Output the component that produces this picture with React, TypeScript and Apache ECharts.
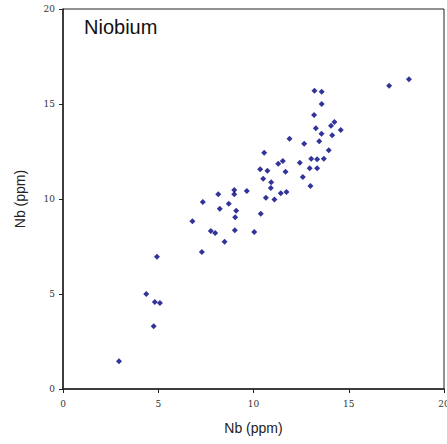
import React, { useEffect, useRef } from "react";
import * as echarts from "echarts";

const xValues = [
  18.16, 17.12, 13.2, 13.58, 13.58, 13.18, 14.25, 14.07, 14.58, 13.27,
  13.57, 14.13, 11.89, 13.45, 12.66, 13.95, 10.56, 13.03, 13.34, 13.69,
  11.54, 11.3, 12.43, 10.35, 10.73, 12.95, 13.34, 11.68, 12.59, 10.51,
  10.93, 12.99, 10.91, 8.99, 9.65, 8.99, 8.15, 10.65, 11.1, 11.43,
  11.73, 7.34, 8.7, 8.23, 9.09, 10.38, 6.79, 9.04, 7.76, 7.99,
  9.02, 10.04, 8.48, 7.29, 4.93, 4.37, 4.82, 5.09, 4.76, 2.94,
];
const yValues = [
  16.3, 15.96, 15.7, 15.65, 15.0, 14.42, 14.05, 13.86, 13.63, 13.72,
  13.44, 13.35, 13.17, 13.04, 12.91, 12.56, 12.44, 12.12, 12.09, 12.12,
  12.0, 11.86, 11.91, 11.56, 11.49, 11.62, 11.62, 11.44, 11.16, 11.07,
  10.88, 10.68, 10.58, 10.47, 10.42, 10.25, 10.25, 10.07, 9.98, 10.3,
  10.37, 9.84, 9.75, 9.49, 9.38, 9.23, 8.83, 9.04, 8.32, 8.21,
  8.35, 8.26, 7.75, 7.21, 6.96, 5.0, 4.58, 4.53, 3.3, 1.46,
];
const titleText = "Niobium";
const xAxisName = "Nb (ppm)";
const yAxisName = "Nb (ppm)";

export default function App() {
  const ref = useRef<HTMLDivElement>(null);
  useEffect(() => {
    if (!ref.current) return;
    const chart = echarts.init(ref.current, null, { renderer: "svg" });
    const data = xValues.map((x, i) => [x, yValues[i]]);
    const tickLabel = {
      fontFamily: "DejaVu Serif",
      fontSize: 9,
      color: "#333",
    };
    chart.setOption({
      animation: false,
      backgroundColor: "#fff",
      grid: {
        left: 63,
        right: 3,
        top: 9,
        bottom: 55,
        outerBoundsMode: "none",
        containLabel: false,
        show: true,
        borderColor: "#222",
        borderWidth: 1,
        backgroundColor: "transparent",
      },
      graphic: [
        {
          type: "text",
          left: 84,
          top: 17,
          style: {
            text: titleText,
            font: "20px 'Liberation Sans'",
            fill: "#111",
          },
        },
      ],
      xAxis: {
        type: "value",
        min: 0,
        max: 20,
        interval: 5,
        name: xAxisName,
        nameLocation: "middle",
        nameGap: 32,
        nameTextStyle: { fontFamily: "Liberation Sans", fontSize: 14, color: "#222" },
        axisLine: { show: true, lineStyle: { color: "#222", width: 1.5 } },
        axisTick: { show: true, length: 4, lineStyle: { color: "#222" } },
        axisLabel: { ...tickLabel, margin: 10 },
        splitLine: { show: false },
      },
      yAxis: {
        type: "value",
        min: 0,
        max: 20,
        interval: 5,
        name: yAxisName,
        nameLocation: "middle",
        nameGap: 36,
        nameTextStyle: { fontFamily: "Liberation Sans", fontSize: 14, color: "#222" },
        axisLine: { show: true, lineStyle: { color: "#222", width: 1.5 } },
        axisTick: { show: true, length: 4, lineStyle: { color: "#222" } },
        axisLabel: { ...tickLabel, margin: 8 },
        splitLine: { show: false },
      },
      series: [
        {
          type: "scatter",
          data,
          symbol: "diamond",
          symbolSize: 6,
          itemStyle: { color: "#000080" },
        },
      ],
    });
    return () => chart.dispose();
  }, []);
  return <div ref={ref} style={{ width: 447, height: 444, position: "absolute", left: 0, top: 0 }} />;
}
